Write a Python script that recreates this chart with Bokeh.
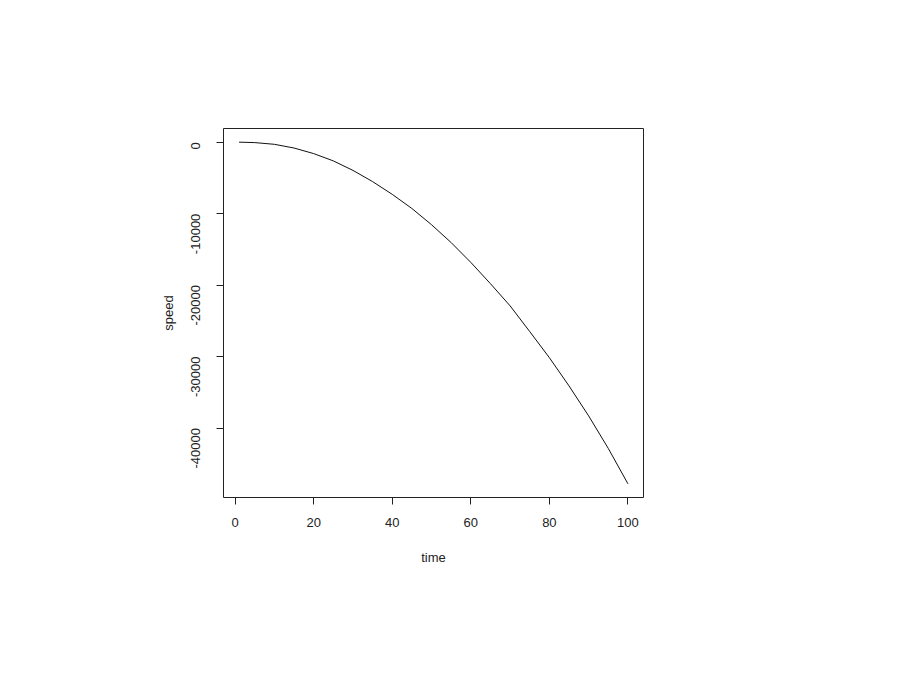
from bokeh.plotting import figure
from bokeh.models import Range1d, FixedTicker
from bokeh.embed import file_html
from bokeh.resources import INLINE
import math

# Values
time = [1, 5, 10, 15, 20, 25, 30, 35, 40, 45, 50, 55, 60, 65, 70, 75, 80, 85, 90, 95, 100]
speed = [0, -60, -300, -820, -1600, -2620, -3950, -5520, -7300, -9280, -11550,
         -14050, -16820, -19800, -22900, -26500, -30150, -34100, -38300, -42850, -47800]
x_ticks = [0, 20, 40, 60, 80, 100]
y_ticks = [0, -10000, -20000, -30000, -40000]
x_title = "time"
y_title = "speed"

# R-style 4% range padding
xpad = 0.04 * (max(time) - min(time))
ypad = 0.04 * (max(speed) - min(speed))

W, H = 890, 662
left, top = 223, 128
fw, fh = 420, 369

p = figure(width=W, height=H, output_backend="svg", toolbar_location=None,
           x_range=Range1d(min(time) - xpad, max(time) + xpad),
           y_range=Range1d(min(speed) - ypad, max(speed) + ypad),
           min_border_left=left, min_border_top=top,
           min_border_right=W - left - fw, min_border_bottom=H - top - fh)

p.line(time, speed, line_color="#111111", line_width=1)

p.grid.visible = False
p.outline_line_color = "#222222"
p.outline_line_width = 1
p.background_fill_color = "white"
p.border_fill_color = "white"

font = "Liberation Sans"
for ax in (p.xaxis[0], p.yaxis[0]):
    ax.axis_line_color = None
    ax.major_tick_in = 0
    ax.major_tick_out = 7
    ax.major_tick_line_color = "#222222"
    ax.minor_tick_line_color = None
    ax.major_label_text_font = font
    ax.major_label_text_font_size = "13px"
    ax.major_label_text_color = "#222222"
    ax.axis_label_text_font = font
    ax.axis_label_text_font_size = "13px"
    ax.axis_label_text_font_style = "normal"
    ax.axis_label_text_color = "#222222"

p.xaxis[0].ticker = FixedTicker(ticks=x_ticks)
p.yaxis[0].ticker = FixedTicker(ticks=y_ticks)
p.xaxis[0].major_label_overrides = {t: str(t) for t in x_ticks}
p.yaxis[0].major_label_overrides = {t: str(t) for t in y_ticks}
p.xaxis[0].axis_label = x_title
p.yaxis[0].axis_label = y_title
p.xaxis[0].major_label_standoff = 13
p.yaxis[0].major_label_standoff = 21
p.yaxis[0].major_label_orientation = math.pi / 2
p.xaxis[0].axis_label_standoff = 20
p.yaxis[0].axis_label_standoff = 8

open("out.html", "w").write(file_html(p, INLINE))
